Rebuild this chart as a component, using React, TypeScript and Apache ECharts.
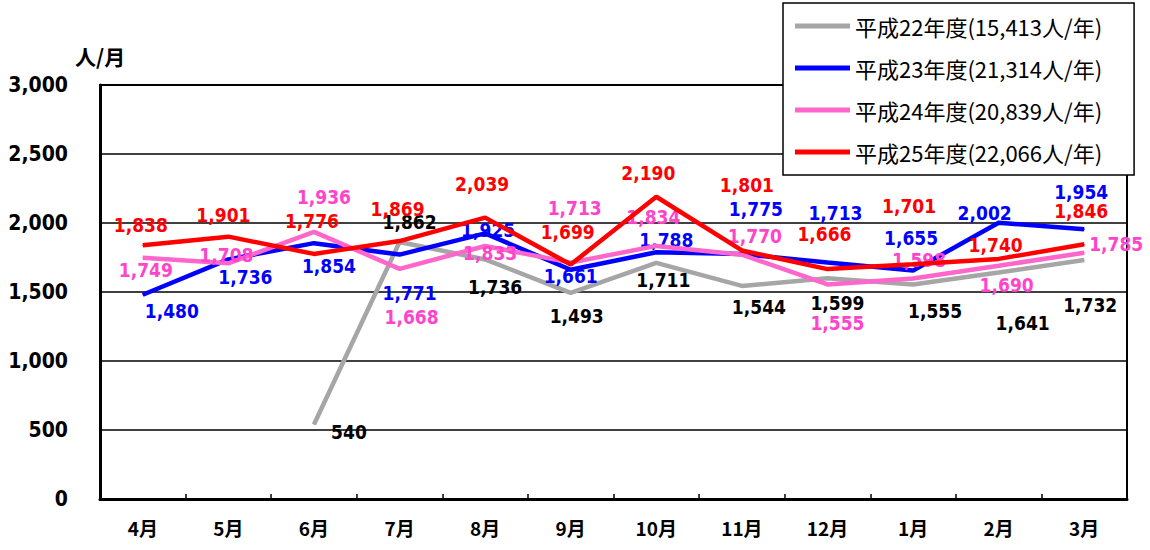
import React, { useEffect, useRef } from "react";
import * as echarts from "echarts";

const months = ["4月", "5月", "6月", "7月", "8月", "9月", "10月", "11月", "12月", "1月", "2月", "3月"];
const seriesNames = [
  "平成22年度(15,413人/年)",
  "平成23年度(21,314人/年)",
  "平成24年度(20,839人/年)",
  "平成25年度(22,066人/年)",
];
const h22: (number | null)[] = [null, null, 540, 1862, 1736, 1493, 1711, 1544, 1599, 1555, 1641, 1732];
const h23 = [1480, 1736, 1854, 1771, 1925, 1661, 1788, 1775, 1713, 1655, 2002, 1954];
const h24 = [1749, 1708, 1936, 1668, 1833, 1713, 1834, 1770, 1555, 1598, 1690, 1785];
const h25 = [1838, 1901, 1776, 1869, 2039, 1699, 2190, 1801, 1666, 1701, 1740, 1846];
const yMin = 0;
const yMax = 3000;
const yStep = 500;
const yAxisName = "人/月";

// label placement (styling only): [dx, dy] of label centre from its point
const off22 = [[0, 0], [0, 0], [35, 8], [10, -20], [10, 28], [6, 23], [7, 17], [17, 21], [10, 25], [22, 27], [24, 50], [6, 45]];
const off23 = [[29, 16], [17, 18], [15, 23], [10, 38], [3, -3], [0, 6], [10, -12], [14, -45], [8, -50], [-2, -33], [-14, -10], [-3, -37]];
const off24 = [[3, 12], [-2, -8], [10, -35], [12, 48], [5, 7], [4, -55], [-3, -29], [13, -19], [10, 39], [6, -18], [8, 19], [32, -9]];
const off25 = [[-2, -20], [-5, -22], [-2, -33], [-2, -32], [-3, -34], [-3, -33], [-8, -24], [5, -65], [-3, -35], [-4, -58], [-3, -14], [-3, -33]];

const lineColors = ["#A6A6A6", "#0000FF", "#FF66CC", "#FF0000"];
const labelColors = ["#000000", "#0000FF", "#FF44CC", "#FF0000"];
const numFont = "'DejaVu Sans Condensed', 'DejaVu Sans', sans-serif";
const jpFont = "'Noto Sans CJK JP', sans-serif";

const fmt = (v: number) => v.toLocaleString("en-US");

export default function App() {
  const ref = useRef<HTMLDivElement>(null);
  useEffect(() => {
    if (!ref.current) return;
    const chart = echarts.init(ref.current, undefined, { renderer: "svg" });
    const all = [h22, h23, h24, h25];
    const offs = [off22, off23, off24, off25];
    const series = all.map((arr, si) => ({
      name: seriesNames[si],
      type: "line",
      symbol: "circle",
      symbolSize: 1,
      showSymbol: true,
      connectNulls: false,
      lineStyle: { color: lineColors[si], width: 4.5 },
      itemStyle: { color: lineColors[si] },
      emphasis: { disabled: true },
      label: {
        show: true,
        position: "inside",
        color: labelColors[si],
        fontSize: 19,
        fontWeight: "bold",
        fontFamily: numFont,
        formatter: (p: any) => fmt(p.value),
      },
      data: arr.map((v, i) =>
        v == null ? null : { value: v, label: { offset: offs[si][i] } }
      ),
      z: 2 + si,
    }));
    chart.setOption({
      animation: false,
      backgroundColor: "#ffffff",
      grid: {
        left: 100,
        right: 23,
        top: 85,
        bottom: 51,
        show: true,
        borderColor: "#000",
        borderWidth: 2,
      },
      legend: {
        orient: "vertical",
        left: 783,
        top: 3,
        itemWidth: 55,
        itemHeight: 5,
        icon: "rect",
        itemGap: 20,
        padding: [12, 32, 12, 12],
        borderColor: "#000",
        borderWidth: 1.5,
        backgroundColor: "#fff",
        selectedMode: false,
        z: 20,
        textStyle: { fontSize: 22, lineHeight: 21, fontFamily: jpFont, color: "#000" },
        data: seriesNames.map((n, i) => ({ name: n, itemStyle: { color: lineColors[i] } })),
      },
      xAxis: {
        type: "category",
        data: months,
        boundaryGap: true,
        axisLine: { lineStyle: { color: "#000", width: 3 } },
        axisTick: { show: true, inside: true, length: 5, lineStyle: { color: "#000", width: 1.5 } },
        axisLabel: {
          color: "#000",
          fontSize: 19,
          fontWeight: "bold",
          fontFamily: jpFont,
          margin: 19,
        },
        splitLine: { show: false },
      },
      yAxis: {
        type: "value",
        min: yMin,
        max: yMax,
        interval: yStep,
        axisLine: { show: true, lineStyle: { color: "#000", width: 3 } },
        axisTick: { show: false },
        axisLabel: {
          color: "#000",
          fontSize: 21,
          fontWeight: "bold",
          fontFamily: numFont,
          margin: 32,
          formatter: (v: number) => fmt(v),
        },
        splitLine: { show: true, lineStyle: { color: "#000", width: 1.5 } },
      },
      graphic: [
        {
          type: "text",
          left: 75,
          top: 45,
          style: {
            text: yAxisName,
            fontSize: 21,
            fontWeight: "bold",
            fontFamily: jpFont,
            fill: "#000",
          },
        },
      ],
      series,
    });
    return () => chart.dispose();
  }, []);
  return (
    <div
      ref={ref}
      style={{ position: "absolute", left: 0, top: 0, width: 1150, height: 550, background: "#fff" }}
    />
  );
}
